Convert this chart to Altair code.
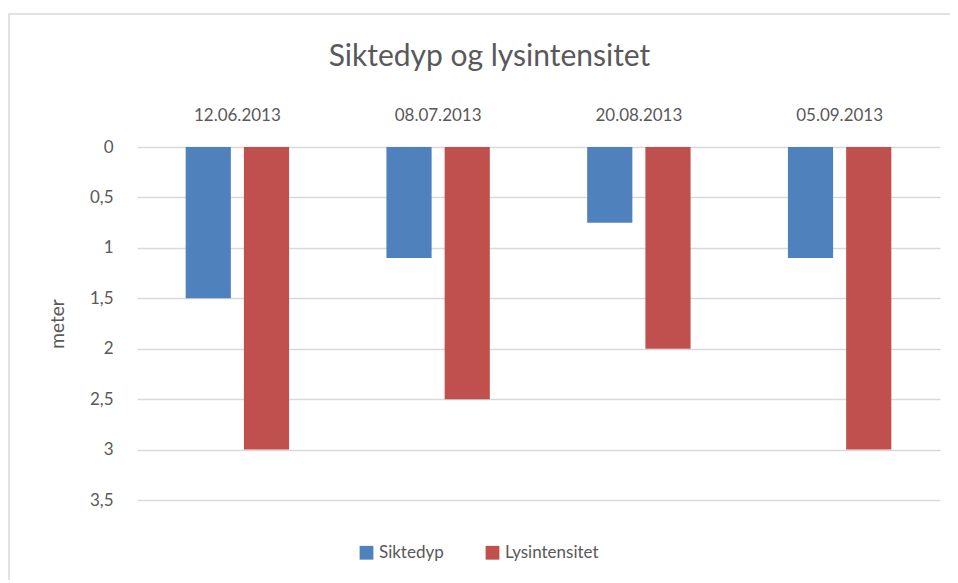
import altair as alt
import pandas as pd

dates = ["12.06.2013", "08.07.2013", "20.08.2013", "05.09.2013"]
series = ["Siktedyp", "Lysintensitet"]
siktedyp = [1.5, 1.1, 0.75, 1.1]
lysintensitet = [3.0, 2.5, 2.0, 3.0]
colors = ["#4F81BD", "#C0504D"]

rows = []
for i, d in enumerate(dates):
    rows.append({"dato": d, "serie": series[0], "meter": siktedyp[i]})
    rows.append({"dato": d, "serie": series[1], "meter": lysintensitet[i]})
df = pd.DataFrame(rows)

FONT = "Lato"
TXT = "#595959"

bars = alt.Chart(df).mark_bar().encode(
    x=alt.X("dato:N", sort=dates,
            scale=alt.Scale(paddingInner=0, paddingOuter=0),
            axis=alt.Axis(orient="top", title=None, labelAngle=0, domain=False,
                          ticks=False, labelFontSize=17, labelColor=TXT,
                          labelFont=FONT, labelPadding=23)),
    xOffset=alt.XOffset("serie:N", sort=series,
                        scale=alt.Scale(paddingInner=0.224, paddingOuter=0.836)),
    y=alt.Y("meter:Q",
            scale=alt.Scale(domain=[0, 3.5], reverse=True, nice=False),
            axis=alt.Axis(values=[0, 0.5, 1, 1.5, 2, 2.5, 3, 3.5],
                          labelExpr="replace(toString(datum.value), '.', ',')",
                          domain=False, ticks=False, labelFontSize=17,
                          labelColor=TXT, labelFont=FONT, labelPadding=24,
                          gridColor="#D9D9D9", gridWidth=1.3,
                          title="meter", titleFontSize=19, titleColor=TXT,
                          titleFont=FONT, titleFontWeight="normal",
                          titleX=-70, titleAngle=-90)),
    color=alt.Color("serie:N", sort=series,
                    scale=alt.Scale(domain=series, range=colors),
                    legend=alt.Legend(title=None, orient="none", direction="horizontal",
                                      legendX=221, legendY=397,
                                      symbolType="square", symbolSize=190,
                                      symbolStrokeWidth=0, labelFontSize=17,
                                      labelColor=TXT, labelFont=FONT,
                                      columnPadding=40, labelOffset=4)),
)

border = alt.Chart(pd.DataFrame({"a": [0]})).mark_rect(
    fill=None, stroke="#D9D9D9", strokeWidth=1.5
).encode(
    x=alt.value(-128), x2=alt.value(900), y=alt.value(-133), y2=alt.value(500)
)

chart = alt.layer(border, bars).properties(
    width=803, height=353,
    title=alt.TitleParams("Siktedyp og lysintensitet", anchor="middle", frame="group",
                          dx=-49, dy=73, fontSize=30, font=FONT, color=TXT,
                          fontWeight="normal", offset=14),
    autosize=alt.AutoSizeParams(type="none"),
    padding={"left": 129, "top": 139, "right": 10, "bottom": 80},
).configure_view(stroke=None)

chart.save("out.html", embed_options={"renderer": "svg", "actions": False})
